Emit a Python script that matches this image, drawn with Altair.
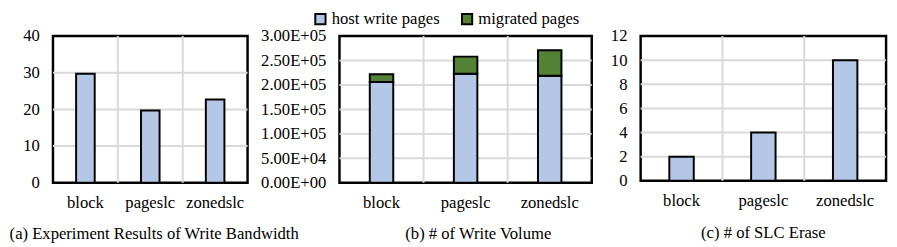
import altair as alt
import pandas as pd

# ---- data ----
categories = ["block", "pageslc", "zonedslc"]
series = ["host write pages", "migrated pages"]
series_colors = ["#b4c7e7", "#548235"]

bandwidth = [29.7, 19.7, 22.7]
host_write_pages = [206000, 223000, 219000]
migrated_pages = [16000, 35000, 52000]
slc_erase = [2, 4, 10]

bw_ticks = [0, 10, 20, 30, 40]
vol_ticks = [0, 50000, 100000, 150000, 200000, 250000, 300000]
vol_tick_labels = ["0.00E+00", "5.00E+04", "1.00E+05", "1.50E+05",
                   "2.00E+05", "2.50E+05", "3.00E+05"]
erase_ticks = [0, 2, 4, 6, 8, 10, 12]

titles = ["(a) Experiment Results of Write Bandwidth",
          "(b) # of Write Volume",
          "(c) # of SLC Erase"]

FONT = "Liberation Serif"
FS = 17
GRID = "#d9d9d9"

df_a = pd.DataFrame({"cat": categories, "value": bandwidth, "series": series[0], "ord": 0})
df_b = pd.DataFrame({
    "cat": categories * 2,
    "value": host_write_pages + migrated_pages,
    "series": [series[0]] * 3 + [series[1]] * 3,
    "ord": [0] * 3 + [1] * 3,
})
df_c = pd.DataFrame({"cat": categories, "value": slc_erase, "series": series[0], "ord": 0})

# interior category boundaries (start of every band after the first)
df_vgrid = pd.DataFrame({"cat": categories[1:]})

color_enc = alt.Color(
    "series:N",
    scale=alt.Scale(domain=series, range=series_colors),
    legend=alt.Legend(
        title=None, orient="none", legendX=265, legendY=-26,
        direction="horizontal", symbolType="square", symbolSize=110,
        symbolStrokeColor="black", symbolStrokeWidth=2,
        labelFont=FONT, labelFontSize=FS, labelColor="black",
        labelOffset=3, columnPadding=18,
    ),
)


def x_axis():
    return alt.Axis(labelAngle=0, domain=False, ticks=False, grid=False,
                    labelPadding=12, labelFont=FONT, labelFontSize=FS,
                    labelColor="black")


def x_scale():
    return alt.Scale(domain=categories, paddingInner=0, paddingOuter=0)


def panel(df, ticks, domain, w, h, size, title, dx, label_expr=None):
    axis_kwargs = dict(values=ticks, domain=False, ticks=False, grid=False,
                       labelPadding=14, labelFont=FONT, labelFontSize=FS,
                       labelColor="black")
    if label_expr is not None:
        axis_kwargs["labelExpr"] = label_expr
    y_scale = alt.Scale(domain=domain, nice=False)

    hgrid = alt.Chart(pd.DataFrame({"value": ticks[1:-1]})).mark_rule(
        color=GRID, strokeWidth=2
    ).encode(
        y=alt.Y("value:Q", title=None, scale=y_scale, axis=alt.Axis(**axis_kwargs)),
    )
    vgrid = alt.Chart(df_vgrid).mark_rule(color=GRID, strokeWidth=2).encode(
        x=alt.X("cat:N", sort=categories, title=None, scale=x_scale(),
                axis=x_axis(), bandPosition=0),
    )
    bars = alt.Chart(df).mark_bar(stroke="black", strokeWidth=2, size=size).encode(
        x=alt.X("cat:N", sort=categories, title=None, scale=x_scale(), axis=x_axis()),
        y=alt.Y("value:Q", stack="zero", title=None, scale=y_scale,
                axis=alt.Axis(**axis_kwargs)),
        color=color_enc,
        order=alt.Order("ord:Q"),
    )
    return alt.layer(hgrid, vgrid, bars).properties(
        width=w, height=h,
        title=alt.TitleParams(titles[title], orient="bottom", font=FONT, fontSize=FS,
                              fontWeight="normal", color="black", offset=17, dx=dx),
    )


vol_expr = ""
for v, lab in zip(vol_ticks, vol_tick_labels):
    vol_expr += f"datum.value == {v} ? '{lab}' : "
vol_expr += "''"

pa = panel(df_a, bw_ticks, [0, 40], 199, 150, 19, 0, 4)
pb = panel(df_b, vol_ticks, [0, 300000], 258, 150, 24, 1, 13, vol_expr)
pc = panel(df_c, erase_ticks, [0, 12], 251, 148, 25, 2, 0)

chart = alt.hconcat(
    pa,
    alt.hconcat(pb, pc, spacing=14),
    spacing=-42,
).properties(padding=0, background="white").configure_view(
    stroke="black", strokeWidth=2.5
)

chart.save("out.html", embed_options={"renderer": "svg", "actions": False})
